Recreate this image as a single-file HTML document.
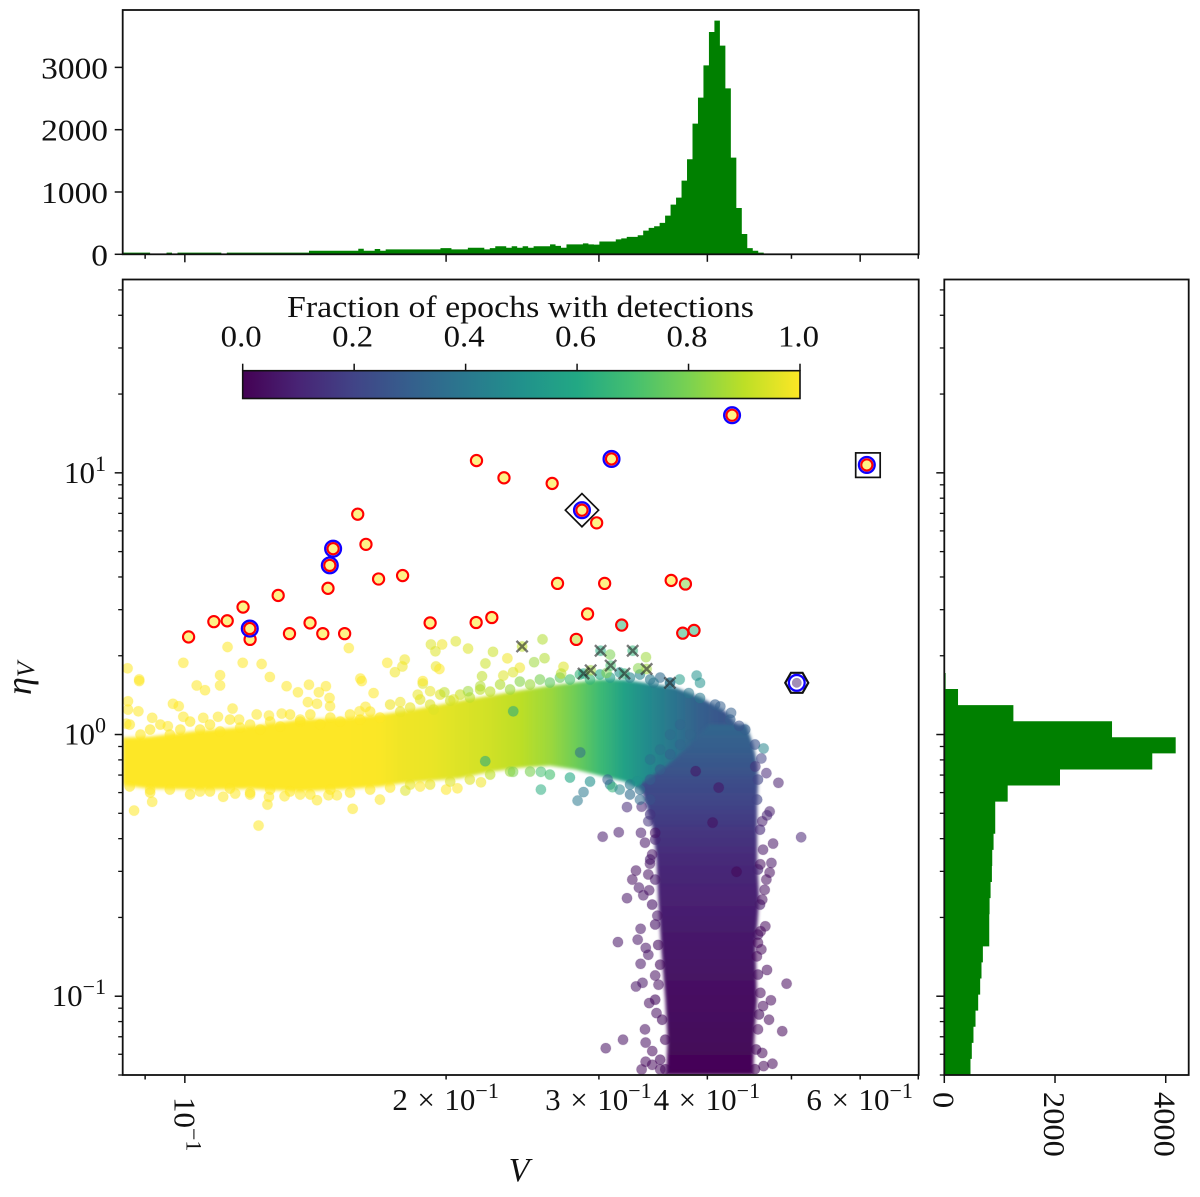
<!DOCTYPE html>
<html lang="en">
<head>
<meta charset="utf-8">
<title>Variability scatter with marginal histograms</title>
<style>
html,body{margin:0;padding:0;background:#fff;}
svg{display:block;}
text{font-family:"Liberation Serif","DejaVu Serif",serif;fill:#111;font-size:31px;}
.it{font-style:italic;}
</style>
</head>
<body>
<svg id="chart" xmlns="http://www.w3.org/2000/svg" width="1200" height="1197" viewBox="0 0 1200 1197">
  <defs>
    <clipPath id="mainClip"><rect x="122.7" y="279.5" width="796" height="795.5"/></clipPath>
    <filter id="soft" x="-5%" y="-5%" width="110%" height="110%"><feGaussianBlur stdDeviation="1.6"/></filter>
  </defs>
  <rect x="0" y="0" width="1200" height="1197" fill="#fff"/>
  <g id="topHist"></g>
  <g id="rightHist"></g>
  <g id="scatter" clip-path="url(#mainClip)"></g>
  <g id="axes"></g>
  <g id="colorbar"></g>
  <text x="520.5" y="317" text-anchor="middle" textLength="467" lengthAdjust="spacingAndGlyphs">Fraction of epochs with detections</text>
  <text class="it" x="519" y="1181" text-anchor="middle" style="font-size:34px">V</text>
  <text class="it" transform="translate(31,695) rotate(-90)" style="font-size:36px">η<tspan dy="3" style="font-size:25px">V</tspan></text>
</svg>
<script>
// --- Axis limits (data units) ---
const xDomain = [0.0848, 0.7008];
const yDomain = [0.05, 54.8];
const topCountMax = 3921;
const rightCountMax = 4415;

// --- Top histogram: log-spaced bins in V ---
const vHistStart = 0.0848;
const vHistBinDex = 0.006313;
const vHistCounts = [
  27,27,27,27,27,0,0,0,27,0,
  27,27,27,27,27,27,27,27,0,27,
  27,27,27,27,27,27,27,27,27,27,
  27,27,27,27,58,58,58,58,58,58,
  58,58,58,90,58,58,85,58,80,80,
  80,80,80,80,80,80,80,80,100,100,
  80,80,80,105,105,105,80,100,130,130,
  105,130,105,130,105,130,130,130,160,135,
  105,160,160,160,175,160,155,205,205,205,
  240,255,280,280,305,380,425,450,505,620,
  797,909,1182,1525,2097,2514,3033,3568,3750,3349,
  2664,1551,744,326,100,58,27
];
const topTicks = [0, 1000, 2000, 3000];
const topTickLabels = ["0", "1000", "2000", "3000"];

// --- Right histogram: log-spaced bins in eta (bottom to top) ---
const etaHistStart = 0.05;
const etaHistBinDex = 0.06145;
const etaHistCounts = [
  473,497,527,564,612,648,672,697,812,812,
  818,836,860,866,890,920,920,1145,2090,3757,
  4180,3030,1248,248,24
];
const rightTicks = [0, 2000, 4000];
const rightTickLabels = ["0", "2000", "4000"];

// --- Shared axis ticks ---
const xMajorTicks = [0.1];
const xMinorTicks = [0.09, 0.2, 0.3, 0.4, 0.5, 0.6, 0.7];
const xLongMinorTicks = [0.2, 0.3, 0.4, 0.6];
const xLabelValues = [0.2, 0.3, 0.4, 0.6];
const xLabelDigits = ["2", "3", "4", "6"];
const yMajorTicks = [0.1, 1, 10];
const yMajorLabels = ["−1", "0", "1"];
const yMinorTicks = [0.05,0.06,0.07,0.08,0.09,0.2,0.3,0.4,0.5,0.6,0.7,0.8,0.9,2,3,4,5,6,7,8,9,20,30,40,50];

// --- Colorbar ---
const cbarTicks = [0, 0.2, 0.4, 0.6, 0.8, 1];
const cbarLabels = ["0.0", "0.2", "0.4", "0.6", "0.8", "1.0"];
const viridisStops = ["#440154","#482475","#414487","#355f8d","#2a788e","#21918c","#22a884","#44bf70","#7ad151","#bddf26","#fde725"];

// --- Dense sources: horizontal ridge of the cloud, read as an envelope ---
const ridgeV = [.0848,.0912,.1041,.1189,.1358,.155,.1678,.1771,.1917,.2074,.2246,.2432,.2634,.2817,.3008,.3212,.3437,.3676,.393,.4204,.4433];
const ridgeEtaTop = [.974,.983,1.036,1.073,1.141,1.161,1.193,1.224,1.280,1.347,1.409,1.474,1.538,1.58,1.623,1.62,1.566,1.513,1.385,1.224,.974];
const ridgeEtaBottom = [.64,.62,.615,.62,.605,.62,.632,.65,.665,.68,.72,.746,.76,.735,.697,.661,.59,.54,.473,.397,.363];
const ridgeFrac = [1,1,1,1,1,1,.995,.98,.97,.95,.93,.9,.85,.78,.68,.57,.47,.38,.3,.26,.24];

// --- Dense sources: vertical column of the cloud, read as an envelope ---
const columnEta = [1.092,.916,.768,.644,.54,.433,.333,.234,.151,.097,.0682,.05];
const columnVLeft = [.4016,.3825,.3606,.3345,.340,.3465,.3495,.3512,.3541,.3579,.36,.3588];
const columnVRight = [.4433,.4517,.4568,.4575,.4565,.4565,.4565,.459,.4545,.4565,.453,.4518];
const columnFrac = [.33,.3,.27,.23,.2,.16,.12,.09,.06,.04,.02,.01];

// --- Individually visible sources ---
const pointV = [
  .2583,.2597,.2526,.2353,.2432,.2389,.2328,.2731,.2714,.3090,
  .3399,.3330,.3062,.3468,.3717,.3888,.3923,.3808,.3923,.4140,
  .4260,.4352,.4644,.4616,.4543,.4678,.4830,.4719,.4686,.4627,
  .5130,.4762,.4637,.4741,.4604,.4719,.4678,.4657,.4627,.4665,
  .4607,.4575,.4616,.4562,.4686,.4936,.4604,.4735,.4637,.4711,
  .4879,.4575,.4627,.4754,.4644,.3232,.3360,.3420,.3030,.3162,
  .3354,.3483,.3390,.3455,.3435,.3310,.3278,.3420,.3336,.3428,
  .3232,.3375,.3503,.3351,.3325,.3155,.3397,.3420,.3351,.3483,
  .3514,.3368,.3310,.3428,.3495,.3390,.3198,.3055,.3396,.3456,
  .3396,.3456,.3360,.3530,.2835,.2880,.3110,.3320,.3070,.0874,
  .0917,.1216,.1561,.1678,.1245,.1250,.1420,.1107,.1143,.1189,
  .1303,.1464,.1497,.1795,.2000,.2061,.2194,.2389,.2572,.2572,
  .2219,.0886,.0860,.0860,.0884,.0917,.0856,.0956,.0969,.0984,
  .0996,.1032,.1055,.1098,.1135,.1050,.1092,.1155,.1210,.1250,
  .1293,.1310,.1350,.1390,.1427,.1454,.1468,.1386,.1420,.1470,
  .1358,.1599,.1650,.1615,.1590,.1771,.1880,.1855,.1917,.1991,
  .2120,.2190,.1935,.2040,.1120,.0996,.1166,.1226,.1545,.0859,
  .0886,.1098,.1253,.1711,.1792,.1781,.1746,.1921,.1979,.1944,
  .2052,.2120,.2265,.2220,.1947,.1965,.2200,.1593,.1880,.2447,
  .3013,.3281,.3095,.3405,.2880,.2935,.3210,.3622,.3878,.4122,
  .4056,.4322,.2855,.2390,.1041,.1358,.0912,.1867,.3345,.3170
];
const pointEta = [
  2.31,1.957,1.89,1.955,1.80,1.73,1.68,1.815,1.71,2.02,
  1.975,1.79,1.72,1.576,1.623,1.68,1.576,1.44,1.38,1.28,
  1.21,1.08,.885,.81,.755,.712,.654,.508,.491,.466,
  .405,.383,.363,.323,.319,.297,.279,.255,.234,.185,
  .177,.160,.151,.142,.126,.1117,.103,.0965,.0917,.0813,
  .0735,.0747,.0607,.0552,.0541,.528,.530,.466,.407,.423,
  .421,.421,.386,.348,.321,.302,.279,.292,.260,.254,
  .237,.243,.203,.181,.1645,.161,.153,.144,.133,.120,
  .1107,.1125,.109,.0942,.0862,.0747,.0682,.0633,.0665,.0617,
  .0562,.0547,.0525,.0525,.559,.603,.629,.663,.673,.512,
  .553,.449,.52,.564,.540,.578,.561,.578,.595,.590,
  .581,.586,.586,.611,.616,.623,.657,.720,.616,.720,
  .791,1.60,1.34,1.246,1.227,1.158,1.10,1.076,1.31,1.283,
  1.169,1.54,1.477,1.54,1.257,1.158,1.169,1.141,1.193,1.182,
  1.203,1.53,1.45,1.55,1.45,1.53,1.38,1.33,1.31,1.283,
  1.141,1.60,1.44,1.276,1.227,1.33,1.566,1.42,1.464,1.45,
  1.464,1.53,1.246,1.361,2.16,1.88,1.88,1.86,2.14,1.79,
  1.623,1.685,1.66,1.88,1.934,1.82,1.73,2.21,2.21,2.08,
  2.27,2.13,2.07,1.87,1.82,1.78,1.67,1.636,1.6,2.17,
  2.09,2.09,1.835,1.78,1.71,1.76,1.71,1.576,.724,.627,
  .461,.299,.854,1.227,.606,.59,.616,.633,.564,.616
];
const pointFrac = [
  .88,.88,.85,.98,.98,.95,.95,.95,.9,.8,
  .85,.82,.8,.4,.55,.5,.5,.4,.4,.3,
  .3,.25,.45,.2,.15,.12,.08,.08,.1,.08,
  .1,.05,.05,.05,.03,.03,.03,.03,.03,.02,
  .02,.02,.02,.02,.02,.02,.02,.02,.02,.01,
  .01,.02,.01,.01,.01,.12,.1,.15,.07,.07,
  .07,.05,.05,.05,.05,.03,.03,.04,.05,.04,
  .05,.05,.05,.05,.05,.05,.05,.05,.05,.03,
  .03,.05,.05,.03,.03,.03,.04,.04,.03,.02,
  .02,.02,.02,.02,.4,.4,.65,.5,.3,1,
  1,1,1,1,1,1,1,1,1,1,
  1,1,1,.95,1,1,.98,.8,.62,.7,
  .6,1,1,1,1,1,1,1,1,1,
  1,1,1,1,1,1,1,1,1,1,
  1,1,1,1,1,1,1,1,1,1,
  1,1,1,1,1,.98,.95,.97,.97,.9,
  .85,.88,.95,.95,1,1,1,1,1,1,
  1,1,1,1,.98,.98,.98,.95,.98,.95,
  .95,.95,.92,.92,.97,1,.9,1,1,.9,
  .62,.65,.7,.85,.6,.85,.65,.42,.05,.05,
  .03,.01,.35,.6,1,1,1,1,.35,.45
];

// --- Sources along the edges of the dense cloud ---
const edgeV = [
  .0864,.0889,.0912,.0937,.0961,.0988,.1014,.1041,.1069,.1098,
  .1127,.1158,.1189,.1221,.1254,.1288,.1322,.1358,.1395,.1432,
  .1471,.1510,.1550,.1592,.1635,.1678,.1724,.1771,.1818,.1867,
  .1917,.1969,.2022,.2076,.2130,.2189,.2248,.2308,.2370,.2432,
  .2499,.2565,.2634,.2705,.2778,.2852,.2930,.3008,.3090,.3170,
  .3258,.3345,.3437,.3529,.3624,.0864,.0912,.0961,.1014,.1069,
  .1127,.1189,.1254,.1322,.1395,.1471,.1550,.1635,.1724,.1818,
  .1917,.2022,.2130,.2248,.2370,.2499,.2634,.2778,.2930,.3090,
  .3258,.3437,.3437,.3483,.3437,.3483,.3455,.3483,.3511,.3529,
  .3483,.3548,.3577,.3529,.3577,.4565,.4600,.4575,.4600,.4575,
  .4575,.4588,.4552,.4539,.4575,.4539,.4423,.4251,.4083,.3437,
  .3529,.3624,.3722,.3822,.3345,.3258,.3437,.3529,.3624,.3722
];
const edgeEta = [
  1.092,1.0,1.045,1.092,1.0,1.045,1.121,1.045,1.092,1.027,
  1.141,1.063,1.092,1.045,1.121,1.073,1.193,1.121,1.193,1.092,
  1.161,1.121,1.193,1.141,1.224,1.161,1.302,1.224,1.268,1.361,
  1.302,1.422,1.347,1.422,1.385,1.486,1.46,1.553,1.486,1.594,
  1.553,1.623,1.58,1.651,1.623,1.696,1.623,1.696,1.651,1.726,
  1.651,1.696,1.623,1.651,1.58,.633,.6,.616,.59,.606,
  .622,.6,.616,.606,.59,.616,.6,.616,.627,.644,
  .644,.661,.673,.703,.722,.722,.703,.685,.661,.644,
  .59,.564,.495,.397,.333,.279,.224,.188,.157,.132,
  .097,.0813,.0682,.0572,.0526,.564,.433,.305,.224,.172,
  .121,.0852,.0626,.0526,.673,.916,1.045,1.141,1.302,.673,
  .735,.84,.916,1.0,.616,.644,.803,.876,1.0,1.092
];
const edgeFrac = [
  1,1,1,1,1,1,1,1,1,1,
  1,1,1,1,1,1,1,1,1,1,
  1,1,1,1,1,1,.98,.97,.97,.96,
  .95,.95,.93,.92,.9,.9,.9,.88,.85,.82,
  .85,.8,.75,.75,.7,.65,.65,.6,.55,.5,
  .45,.45,.4,.35,.35,1,1,1,1,1,
  1,1,1,1,1,1,1,1,1,.97,
  .97,.95,.95,.9,.85,.8,.7,.6,.5,.45,
  .35,.25,.15,.1,.08,.07,.05,.05,.04,.03,
  .03,.03,.02,.02,.02,.2,.12,.1,.07,.05,
  .04,.03,.02,.01,.2,.25,.3,.3,.3,.3,
  .3,.32,.33,.33,.35,.4,.38,.38,.36,.33
];

// --- Red-ringed variable candidates ---
const redV = [.2168,.2332,.1582,.1617,.1672,.1782,.1462,.1281,.1167,.1119,.1080,.1394,.1917,.2166,.2258,.1442,.1320,.1528,.1010,.1189,.2650,.2982,.2688,.3046,.3634,.3774,.2911,.3187,.2825,.3747,.3861,.1482,.1469,.1188,.4271,.6107,.3102,.2868];
const redEta = [11.14,9.57,6.95,5.33,3.93,4.05,3.62,3.40,3.07,2.72,2.70,2.67,2.67,2.68,2.80,2.43,2.43,2.43,2.36,2.31,9.11,6.44,3.78,3.78,3.88,3.76,2.89,2.62,2.31,2.44,2.50,5.13,4.43,2.54,16.6,10.72,11.3,7.2];
const redFrac = [1,1,1,1,1,1,1,1,1,1,1,1,1,1,1,1,1,1,1,1,1,1,1,1,1,.82,1,.65,.9,.65,.65,1,1,1,1,1,1,1];

// --- Blue-ringed sources ---
const blueV = [.1482,.1469,.1188,.4271,.6107,.3102,.2868,.5071];
const blueEta = [5.13,4.43,2.54,16.6,10.72,11.3,7.2,1.576];

// --- Grey crosses ---
const crossV = [.2447,.3013,.3281,.3095,.3405,.2880,.2935,.3210,.3622];
const crossEta = [2.17,2.09,2.09,1.835,1.78,1.71,1.76,1.71,1.576];

// --- Named special sources ---
const squareV = [.6125];
const squareEta = [10.7];
const diamondV = [.2868];
const diamondEta = [7.2];
const hexV = [.5071];
const hexEta = [1.576];
const hexFrac = [.08];

// --- Layout of the axes boxes on the page ---
const mainBox = {l:122.7, r:918.7, t:279.5, b:1075};
const topBox = {l:122.7, r:918.7, t:10, b:254.3};
const rightBox = {l:944.3, r:1188.7, t:279.5, b:1075};
const cbarBox = {l:242.7, r:800, t:370.7, b:398.5};

// --- Axis functions ---
function xV(v){
  return mainBox.l + (Math.log10(v) - Math.log10(xDomain[0])) / (Math.log10(xDomain[1]) - Math.log10(xDomain[0])) * (mainBox.r - mainBox.l);
}
function yEta(e){
  return mainBox.b - (Math.log10(e) - Math.log10(yDomain[0])) / (Math.log10(yDomain[1]) - Math.log10(yDomain[0])) * (mainBox.b - mainBox.t);
}
function yTop(c){ return topBox.b - c / topCountMax * (topBox.b - topBox.t); }
function xRight(c){ return rightBox.l + c / rightCountMax * (rightBox.r - rightBox.l); }
function xCbar(f){ return cbarBox.l + f * (cbarBox.r - cbarBox.l); }

function viridis(f){
  const t = Math.max(0, Math.min(1, f)) * (viridisStops.length - 1);
  const i = Math.min(Math.floor(t), viridisStops.length - 2);
  const a = viridisStops[i], b = viridisStops[i + 1], k = t - i;
  const ch = (s, p) => parseInt(s.substr(p, 2), 16);
  const mix = p => Math.round(ch(a, p) + (ch(b, p) - ch(a, p)) * k);
  return "rgb(" + mix(1) + "," + mix(3) + "," + mix(5) + ")";
}

const NS = "http://www.w3.org/2000/svg";
function mk(tag, parent, attrs){
  const el = document.createElementNS(NS, tag);
  for (const k in attrs) el.setAttribute(k, attrs[k]);
  parent.appendChild(el);
  return el;
}
function tick(parent, x1, y1, x2, y2, w){
  const el = mk("line", parent, {x1:x1, y1:y1, x2:x2, y2:y2, stroke:"#111", "stroke-width":w || 1.5});
  
  
  return el;
}
function frame(parent, box){
  const el = mk("rect", parent, {x:box.l, y:box.t, width:box.r - box.l, height:box.b - box.t, fill:"none", stroke:"#111", "stroke-width":1.8});
  
  
  return el;
}
function powerLabel(parent, x, y, prefix, exp, anchor, rot){
  const attrs = {x:x, y:y, "text-anchor":anchor};
  if (rot) { attrs.x = 0; attrs.y = 0; attrs.transform = "translate(" + x + "," + y + ") rotate(" + rot + ")"; }
  const t = mk("text", parent, attrs);
  
  
  if (prefix) t.style.wordSpacing = "1.8px";
  t.appendChild(document.createTextNode(prefix + "10"));
  const s = mk("tspan", t, {dy:-12});
  s.style.fontSize = "22px";
  s.textContent = exp;
  return t;
}

// ===== Top histogram =====
(function(){
  const g = document.getElementById("topHist");
  let d = "M" + mainBox.l + " " + topBox.b;
  vHistCounts.forEach(function(c, i){
    const x0 = xV(vHistStart * Math.pow(10, vHistBinDex * i));
    const x1 = xV(vHistStart * Math.pow(10, vHistBinDex * (i + 1)));
    d += "L" + x0.toFixed(2) + " " + yTop(c).toFixed(2) + "L" + x1.toFixed(2) + " " + yTop(c).toFixed(2);
  });
  const last = xV(vHistStart * Math.pow(10, vHistBinDex * vHistCounts.length));
  d += "L" + last.toFixed(2) + " " + topBox.b + "Z";
  const bars = mk("path", g, {d:d, fill:"#008000"});
  
  
  frame(g, topBox);
  topTicks.forEach(function(c, i){
    tick(g, topBox.l - 8, yTop(c), topBox.l, yTop(c));
    const t = mk("text", g, {x:108, y:yTop(c) + 11, "text-anchor":"end", textLength:topTickLabels[i].length * 16.7, lengthAdjust:"spacingAndGlyphs"});
    
    
    t.textContent = topTickLabels[i];
  });
  xMajorTicks.forEach(function(v){ tick(g, xV(v), topBox.b, xV(v), topBox.b + 8); });
  xMinorTicks.forEach(function(v){
    const long = xLongMinorTicks.indexOf(v) >= 0;
    tick(g, xV(v), topBox.b, xV(v), topBox.b + (long ? 7.5 : 4.5));
  });
})();

// ===== Right histogram =====
(function(){
  const g = document.getElementById("rightHist");
  let d = "M" + rightBox.l + " " + rightBox.b;
  etaHistCounts.forEach(function(c, i){
    const y0 = yEta(etaHistStart * Math.pow(10, etaHistBinDex * i));
    const y1 = yEta(etaHistStart * Math.pow(10, etaHistBinDex * (i + 1)));
    d += "L" + xRight(c).toFixed(2) + " " + y0.toFixed(2) + "L" + xRight(c).toFixed(2) + " " + y1.toFixed(2);
  });
  const top = yEta(etaHistStart * Math.pow(10, etaHistBinDex * etaHistCounts.length));
  d += "L" + rightBox.l + " " + top.toFixed(2) + "Z";
  const bars = mk("path", g, {d:d, fill:"#008000"});
  
  
  frame(g, rightBox);
  rightTicks.forEach(function(c, i){
    tick(g, xRight(c), rightBox.b, xRight(c), rightBox.b + 8);
    const x = xRight(c) - 11;
    const t = mk("text", g, {x:0, y:0, transform:"translate(" + x + ",1092) rotate(90)", textLength:rightTickLabels[i].length * 16.2, lengthAdjust:"spacingAndGlyphs"});
    
    
    t.textContent = rightTickLabels[i];
  });
  yMajorTicks.forEach(function(e){ tick(g, rightBox.l - 8, yEta(e), rightBox.l, yEta(e)); });
  yMinorTicks.forEach(function(e){ tick(g, rightBox.l - 4.5, yEta(e), rightBox.l, yEta(e), 1.3); });
})();

// ===== Scatter =====
(function(){
  const g = document.getElementById("scatter");
  const defs = document.querySelector("#chart defs");

  // Ridge envelope filled with a colour ramp read from the sources
  const rg = mk("linearGradient", defs, {id:"ridgeFill", gradientUnits:"userSpaceOnUse", x1:xV(ridgeV[0]), y1:0, x2:xV(ridgeV[ridgeV.length - 1]), y2:0});
  const rx0 = xV(ridgeV[0]), rx1 = xV(ridgeV[ridgeV.length - 1]);
  ridgeV.forEach(function(v, i){
    mk("stop", rg, {offset:((xV(v) - rx0) / (rx1 - rx0)).toFixed(4), "stop-color":viridis(ridgeFrac[i])});
  });
  let dr = "";
  ridgeV.forEach(function(v, i){ dr += (i ? "L" : "M") + xV(v).toFixed(1) + " " + yEta(ridgeEtaTop[i]).toFixed(1); });
  for (let i = ridgeV.length - 1; i >= 0; i--) dr += "L" + xV(ridgeV[i]).toFixed(1) + " " + yEta(ridgeEtaBottom[i]).toFixed(1);
  const ridge = mk("path", g, {d:dr + "Z", fill:"url(#ridgeFill)", filter:"url(#soft)"});
  
  

  // Column envelope
  const cy0 = yEta(columnEta[0]), cy1 = yEta(columnEta[columnEta.length - 1]);
  const cg = mk("linearGradient", defs, {id:"columnFill", gradientUnits:"userSpaceOnUse", x1:0, y1:cy0, x2:0, y2:cy1});
  columnEta.forEach(function(e, i){
    mk("stop", cg, {offset:((yEta(e) - cy0) / (cy1 - cy0)).toFixed(4), "stop-color":viridis(columnFrac[i])});
  });
  let dc = "";
  columnEta.forEach(function(e, i){ dc += (i ? "L" : "M") + xV(columnVRight[i]).toFixed(1) + " " + yEta(e).toFixed(1); });
  for (let i = columnEta.length - 1; i >= 0; i--) dc += "L" + xV(columnVLeft[i]).toFixed(1) + " " + yEta(columnEta[i]).toFixed(1);
  const column = mk("path", g, {d:dc + "Z", fill:"url(#columnFill)", filter:"url(#soft)"});
  
  

  // Sources along the edges of the cloud
  edgeV.forEach(function(v, i){
    const c = mk("circle", g, {cx:xV(v), cy:yEta(edgeEta[i]), r:5.2, fill:viridis(edgeFrac[i]), "fill-opacity":0.6, stroke:viridis(edgeFrac[i]), "stroke-opacity":0.12, "stroke-width":1});
    
    
  });

  // Individually visible points
  pointV.forEach(function(v, i){
    const c = mk("circle", g, {cx:xV(v), cy:yEta(pointEta[i]), r:5.2, fill:viridis(pointFrac[i]), "fill-opacity":0.55, stroke:viridis(pointFrac[i]), "stroke-opacity":0.12, "stroke-width":1});
    
    
  });

  // Crosses
  crossV.forEach(function(v, i){
    const x = xV(v), y = yEta(crossEta[i]), h = 5.6;
    const p = mk("path", g, {d:"M" + (x - h) + " " + (y - h) + "L" + (x + h) + " " + (y + h) + "M" + (x - h) + " " + (y + h) + "L" + (x + h) + " " + (y - h), stroke:"#222", "stroke-opacity":0.6, "stroke-width":2.4, fill:"none"});
    
    
  });

  // Red ringed
  redV.forEach(function(v, i){
    const f = mk("circle", g, {cx:xV(v), cy:yEta(redEta[i]), r:4.9, fill:viridis(redFrac[i]), "fill-opacity":0.55});
    
    
    const c = mk("circle", g, {cx:xV(v), cy:yEta(redEta[i]), r:5.6, fill:"none", stroke:"#f00", "stroke-width":2.1});
    
    
  });

  // Square
  squareV.forEach(function(v, i){
    const s = 24.5, x = xV(v), y = yEta(squareEta[i]);
    const r = mk("rect", g, {x:x - s / 2, y:y - s / 2, width:s, height:s, fill:"none", stroke:"#111", "stroke-width":1.7});
    
    
  });
  // Diamond
  diamondV.forEach(function(v, i){
    const h = 16.6, x = xV(v), y = yEta(diamondEta[i]);
    const p = mk("polygon", g, {points:x + "," + (y - h) + " " + (x + h) + "," + y + " " + x + "," + (y + h) + " " + (x - h) + "," + y, fill:"none", stroke:"#111", "stroke-width":1.7});
    
    
  });
  // Hexagon with its point
  hexV.forEach(function(v, i){
    const x = xV(v), y = yEta(hexEta[i]), w = 11.5, q = 5.8, h = 10;
    const p = mk("polygon", g, {points:(x - w) + "," + y + " " + (x - q) + "," + (y - h) + " " + (x + q) + "," + (y - h) + " " + (x + w) + "," + y + " " + (x + q) + "," + (y + h) + " " + (x - q) + "," + (y + h), fill:"#fff", stroke:"#111", "stroke-width":2.2});
    
    
    const c = mk("circle", g, {cx:x, cy:y, r:4.9, fill:viridis(hexFrac[i]), "fill-opacity":0.5});
    
    
  });

  // Blue rings
  blueV.forEach(function(v, i){
    const c = mk("circle", g, {cx:xV(v), cy:yEta(blueEta[i]), r:7.9, fill:"none", stroke:"#10f", "stroke-width":2.3});
    
    
  });
})();

// ===== Main axes =====
(function(){
  const g = document.getElementById("axes");
  frame(g, mainBox);
  xMajorTicks.forEach(function(v){
    tick(g, xV(v), mainBox.b, xV(v), mainBox.b + 8);
    powerLabel(g, xV(v) - 10.5, 1097, "", "−1", "start", 90);
  });
  xMinorTicks.forEach(function(v){ tick(g, xV(v), mainBox.b, xV(v), mainBox.b + 4.5); });
  xLabelValues.forEach(function(v, i){
    powerLabel(g, xV(v) - 0.5, 1110, xLabelDigits[i] + " × ", "−1", "middle");
  });
  yMajorTicks.forEach(function(e, i){
    tick(g, mainBox.l - 8, yEta(e), mainBox.l, yEta(e));
    powerLabel(g, 106, yEta(e) + 10, "", yMajorLabels[i], "end");
  });
  yMinorTicks.forEach(function(e){ tick(g, mainBox.l - 4.5, yEta(e), mainBox.l, yEta(e), 1.3); });
})();

// ===== Colorbar =====
(function(){
  const g = document.getElementById("colorbar");
  const defs = document.querySelector("#chart defs");
  const lg = mk("linearGradient", defs, {id:"viridisFill", x1:0, y1:0, x2:1, y2:0});
  viridisStops.forEach(function(c, i){
    mk("stop", lg, {offset:i / (viridisStops.length - 1), "stop-color":c});
  });
  const r = mk("rect", g, {x:cbarBox.l, y:cbarBox.t, width:cbarBox.r - cbarBox.l, height:cbarBox.b - cbarBox.t, fill:"url(#viridisFill)", stroke:"#111", "stroke-width":1.6});
  
  
  cbarTicks.forEach(function(f, i){
    tick(g, xCbar(f), cbarBox.t, xCbar(f), cbarBox.t - 7);
    const t = mk("text", g, {x:xCbar(f) - 1.5, y:346.5, "text-anchor":"middle", textLength:41, lengthAdjust:"spacingAndGlyphs"});
    
    
    t.textContent = cbarLabels[i];
  });
})();
</script>
</body>
</html>
